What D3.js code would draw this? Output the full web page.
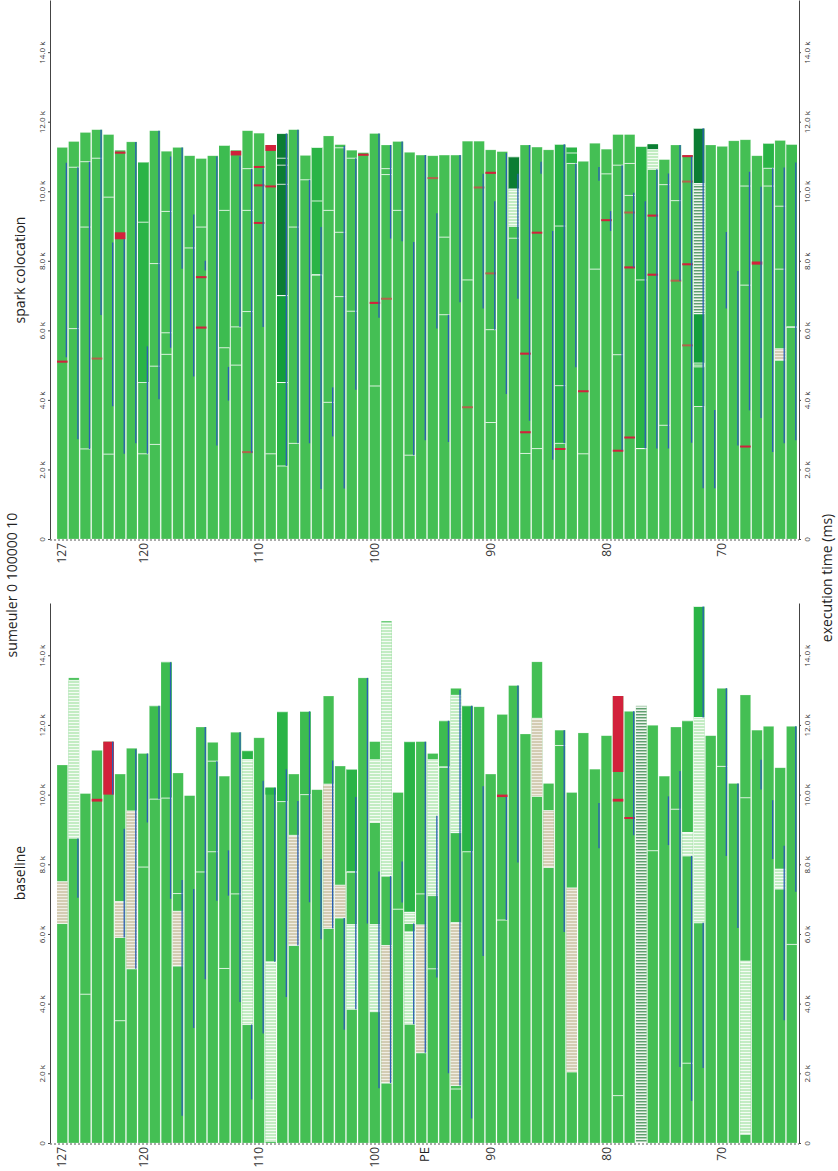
<!DOCTYPE html>
<html>
<head>
<meta charset="utf-8">
<script src="https://cdn.jsdelivr.net/npm/d3@7"></script>
<style>
  body { margin: 0; background: #fff; }
  svg { display: block; }
  .tick text { font-family: "Open Sans", "DejaVu Sans", sans-serif; fill: #333; }
</style>
</head>
<body>
<div id="chart"></div>
<script>
// PEs drawn left to right, 127 down to 64
var pes = d3.range(127, 63, -1);
var peTicks = [127, 120, 110, 100, 90, 80, 70];
var timeTicks = [0, 2, 4, 6, 8, 10, 12, 14];   // k ms

// end of execution per PE (k ms), same order as pes
var baseEnd = [10.85, 13.35, 10.03, 11.27, 11.52, 10.59, 11.33, 11.18, 12.55, 13.81,
  10.62, 9.97, 11.94, 11.50, 10.53, 11.79, 11.26, 11.63, 10.20, 12.38,
  10.59, 12.39, 10.14, 12.83, 10.82, 10.73, 13.35, 11.52, 14.98, 10.06,
  11.52, 11.52, 11.18, 12.12, 13.05, 12.55, 12.52, 10.59, 12.30, 13.13,
  11.74, 13.81, 10.32, 11.85, 10.06, 11.77, 10.73, 11.69, 12.83, 12.39,
  12.55, 11.99, 10.53, 11.94, 12.12, 15.40, 11.69, 13.05, 10.32, 12.86,
  11.85, 11.96, 10.77, 11.96];

var sparkEnd = [11.26, 11.43, 11.69, 11.77, 11.63, 11.18, 11.42, 10.84, 11.74, 11.15,
  11.26, 11.02, 10.94, 11.02, 11.32, 11.18, 11.74, 11.67, 11.33, 11.66,
  11.77, 11.03, 11.26, 11.59, 11.34, 11.18, 11.11, 11.66, 11.33, 11.43,
  11.12, 11.04, 11.02, 11.04, 11.04, 11.44, 11.44, 11.19, 11.14, 10.99,
  11.33, 11.27, 11.19, 11.35, 11.27, 10.86, 11.38, 11.21, 11.63, 11.63,
  11.29, 11.35, 10.91, 11.33, 11.04, 11.81, 11.33, 11.29, 11.45, 11.48,
  11.02, 11.38, 11.46, 11.35];

// state segments over the running green: [pe, from, to, state]
var baseSegs = [
  [127, 6.3, 7.5, "beige"], [126, 8.75, 13.28, "light"], [124, 9.8, 9.88, "red"],
  [123, 10.0, 11.52, "red"], [122, 5.9, 6.93, "beige"], [121, 5.0, 9.53, "beige"],
  [119, 9.87, 12.55, "soft"], [118, 9.9, 13.81, "soft"],
  [117, 5.08, 6.65, "beige"], [111, 3.4, 11.0, "light"], [111, 11.0, 11.26, "mid"],
  [109, 0.05, 5.2, "light"], [109, 10.0, 10.2, "mid"], [108, 9.8, 12.38, "mid"],
  [107, 5.67, 8.83, "beige"], [106, 10.0, 12.39, "soft"], [104, 6.16, 10.3, "beige"],
  [103, 6.46, 7.4, "beige"], [102, 3.84, 6.27, "light"], [102, 7.78, 10.73, "mid"],
  [100, 3.77, 6.27, "light"], [100, 9.2, 11.0, "light"],
  [99, 1.72, 5.67, "beige"], [99, 7.66, 14.93, "light"],
  [97, 3.41, 6.06, "light"], [97, 6.3, 6.62, "light"], [97, 6.62, 11.52, "mid"],
  [96, 2.59, 6.26, "beige"], [95, 7.1, 11.0, "light"], [94, 10.79, 12.12, "soft"],
  [93, 1.65, 6.32, "beige"], [93, 6.32, 8.91, "soft"], [93, 8.91, 12.85, "light"],
  [92, 8.36, 12.55, "mid"], [89, 9.93, 10.0, "red"], [86, 9.95, 12.19, "beige"],
  [85, 7.91, 9.54, "beige"], [83, 2.04, 7.32, "beige"],
  [79, 10.65, 12.83, "red"], [79, 9.8, 9.88, "red"], [78, 9.3, 9.35, "red"],
  [77, 0, 12.55, "grey"], [73, 8.24, 8.91, "light"], [73, 8.91, 12.12, "soft"],
  [72, 6.32, 12.21, "light"], [72, 12.21, 15.4, "mid"],
  [68, 0.25, 5.22, "light"], [65, 7.29, 7.86, "light"]
];

var sparkSegs = [
  [127, 5.07, 5.13, "red"], [124, 5.16, 5.21, "brown"], [122, 11.08, 11.14, "red"],
  [122, 8.62, 8.82, "red"], [120, 4.5, 10.84, "mid"], [115, 7.5, 7.56, "red"],
  [115, 6.05, 6.11, "red"], [113, 5.5, 11.32, "soft"], [112, 11.03, 11.16, "red"],
  [111, 2.47, 2.51, "brown"], [110, 10.67, 10.71, "red"], [110, 10.14, 10.2, "red"],
  [110, 9.06, 9.1, "red"], [109, 11.16, 11.33, "red"], [109, 10.11, 10.15, "red"],
  [108, 2.1, 4.5, "mid"], [108, 4.5, 7.0, "dark"], [108, 7.0, 11.66, "deep"],
  [105, 7.6, 11.26, "mid"],
  [101, 11.02, 11.08, "red"], [100, 6.76, 6.82, "red"], [99, 6.88, 6.92, "brown"],
  [95, 10.35, 10.39, "brown"], [92, 3.76, 3.8, "brown"], [91, 10.08, 10.12, "brown"],
  [90, 10.5, 10.56, "red"], [90, 7.61, 7.65, "brown"],
  [88, 8.99, 10.06, "light"], [88, 10.06, 10.99, "deep"],
  [87, 5.3, 5.36, "red"], [87, 3.04, 3.1, "red"], [86, 8.78, 8.83, "red"],
  [84, 2.75, 11.35, "mid"], [84, 2.56, 2.61, "red"], [83, 10.8, 11.27, "mid"],
  [82, 4.22, 4.27, "red"], [80, 9.14, 9.18, "red"], [79, 2.51, 2.55, "red"],
  [78, 9.36, 9.4, "brown"], [78, 7.78, 7.84, "red"], [78, 2.89, 2.93, "red"],
  [77, 2.6, 11.29, "mid"], [76, 10.63, 11.2, "light"], [76, 11.2, 11.35, "deep"],
  [76, 9.27, 9.33, "red"], [76, 7.57, 7.63, "red"], [74, 7.4, 7.44, "brown"],
  [73, 10.98, 11.04, "red"], [73, 7.87, 7.93, "red"], [73, 10.25, 10.29, "brown"],
  [73, 5.54, 5.58, "brown"], [72, 3.81, 4.95, "mid"], [72, 5.06, 6.48, "dark"],
  [72, 6.48, 10.22, "grey"], [72, 10.22, 11.81, "deep"], [68, 2.63, 2.68, "red"],
  [67, 7.89, 7.98, "red"], [66, 10.66, 11.38, "mid"], [65, 5.14, 5.47, "beige"],
  [64, 6.1, 11.35, "soft"]
];

// thin white event marks: [pe, time]
var baseMarks = [[125, 4.27], [122, 3.51], [120, 7.92], [117, 7.16], [115, 7.78],
  [114, 10.96], [114, 8.36], [113, 5.01], [112, 7.15], [102, 7.78], [98, 6.71],
  [96, 7.15], [95, 5.0], [94, 10.79], [93, 1.55], [89, 6.4], [84, 11.41],
  [79, 1.36], [76, 8.39], [74, 9.58], [73, 2.29], [70, 10.81], [68, 9.91], [64, 5.7]];

var sparkMarks = [[126, 10.69], [126, 6.05], [125, 10.85], [125, 8.97], [125, 2.59],
  [124, 10.95], [123, 9.83], [123, 2.44], [120, 9.11], [120, 2.45], [119, 7.92],
  [119, 4.97], [119, 2.72], [118, 9.42], [118, 5.93], [118, 5.31], [116, 8.37],
  [115, 8.97], [113, 9.45], [112, 6.1], [112, 5.0], [111, 10.65], [111, 9.45],
  [111, 6.54], [109, 2.45], [108, 10.95], [108, 10.75], [108, 10.2], [107, 8.97],
  [107, 2.75], [106, 10.33], [105, 9.72], [105, 7.59], [104, 9.45], [104, 3.93],
  [103, 11.25], [103, 8.82], [103, 6.97], [102, 10.95], [102, 6.55], [100, 4.4],
  [99, 10.65], [99, 10.48], [98, 9.45], [97, 2.41], [94, 8.68], [94, 6.45],
  [92, 7.45], [90, 6.02], [90, 3.35], [88, 8.65], [87, 2.46], [86, 2.6],
  [84, 9.0], [84, 4.41], [83, 11.1], [82, 2.45], [81, 7.76], [80, 10.5],
  [79, 10.75], [79, 5.3], [78, 10.8], [78, 9.88], [77, 7.45], [77, 2.6],
  [75, 10.19], [75, 3.27], [74, 9.73], [72, 5.0], [68, 10.15], [68, 7.3],
  [66, 10.15], [65, 9.57], [65, 7.76], [64, 6.09]];

// blue thread lines: [pe, from, to]
var baseBlue = [[126, 7.04, 8.74], [123, 10.0, 11.52], [122, 5.9, 9.02], [121, 5.0, 11.3],
  [120, 9.2, 11.18], [119, 9.87, 12.55], [118, 7.01, 13.8], [117, 0.78, 7.55],
  [116, 3.3, 7.29], [115, 4.7, 11.94], [114, 6.95, 10.96], [113, 7.1, 8.4],
  [112, 4.05, 11.79], [111, 1.25, 3.4], [110, 3.14, 10.4], [109, 5.2, 10.2],
  [108, 4.19, 10.73], [107, 5.67, 9.82], [106, 6.91, 12.39], [105, 5.85, 8.15],
  [104, 6.16, 10.98], [103, 3.25, 6.46], [102, 3.84, 9.93], [101, 6.3, 13.35],
  [100, 1.57, 7.79], [99, 1.72, 7.66], [98, 6.9, 8.08], [97, 3.41, 6.3],
  [96, 2.59, 11.52], [95, 4.75, 9.39], [94, 2.0, 12.12], [93, 1.65, 13.0],
  [92, 0.7, 12.55], [91, 5.37, 10.24], [89, 6.4, 9.93], [88, 8.05, 13.13],
  [84, 6.06, 11.85], [81, 8.46, 9.76], [78, 8.83, 12.39], [75, 8.55, 9.95],
  [74, 2.18, 10.68], [73, 1.21, 8.24], [72, 2.15, 6.32], [72, 12.21, 15.4],
  [70, 8.24, 13.05], [69, 6.17, 10.32], [67, 10.15, 11.0], [66, 8.15, 9.84],
  [65, 3.52, 8.53], [64, 7.21, 11.96]];

var sparkBlue = [[127, 5.23, 10.82], [126, 2.87, 10.69], [125, 2.59, 10.85], [124, 6.44, 11.77],
  [123, 3.82, 8.53], [122, 2.45, 8.62], [121, 2.75, 11.42], [120, 2.45, 5.54],
  [119, 4.02, 11.74], [118, 5.5, 11.0], [117, 7.77, 11.26], [116, 4.67, 9.33],
  [115, 7.72, 8.0], [114, 2.69, 11.0], [113, 3.98, 4.95], [112, 6.1, 11.0],
  [111, 2.48, 10.65], [110, 6.1, 10.65], [108, 2.1, 11.66], [107, 2.75, 11.77],
  [106, 2.75, 10.33], [105, 1.44, 8.97], [104, 2.95, 4.36], [103, 1.45, 11.3],
  [102, 4.29, 10.95], [100, 6.36, 11.66], [99, 8.64, 11.33], [98, 8.56, 11.43],
  [97, 2.41, 8.54], [96, 2.84, 11.04], [95, 6.05, 9.37], [94, 2.79, 6.45],
  [93, 6.81, 11.04], [91, 6.63, 10.5], [90, 6.02, 9.71], [89, 4.17, 11.1],
  [88, 6.91, 10.5], [87, 3.4, 11.33], [86, 10.5, 10.85], [85, 2.28, 8.86],
  [84, 2.75, 11.35], [83, 4.94, 10.8], [81, 10.3, 10.7], [80, 8.86, 9.43],
  [79, 2.55, 10.75], [78, 7.81, 9.96], [77, 2.6, 9.71], [76, 2.6, 10.63],
  [75, 2.6, 10.51], [74, 7.42, 11.33], [73, 2.77, 11.0], [72, 1.46, 11.81],
  [71, 1.46, 3.71], [70, 6.63, 8.83], [69, 2.69, 7.71], [68, 3.7, 10.56],
  [67, 3.48, 10.13], [66, 2.5, 10.66], [65, 2.75, 10.68], [64, 2.84, 10.83]];

var stateFill = {
  soft: "#3dbc50", mid: "#2ab446", dark: "#139e3b", deep: "#0b7d33",
  red: "#d2213b", brown: "#b0634a",
  light: "url(#stLight)", beige: "url(#stBeige)", grey: "url(#stGrey)"
};

var W = 838, H = 1171;
var font = '"Open Sans", "DejaVu Sans", sans-serif';

var svg = d3.select("#chart").append("svg")
  .attr("width", W).attr("height", H);

// striped fills
var defs = svg.append("defs");
function stripes(id, base, line, line2) {
  var p = defs.append("pattern").attr("id", id)
    .attr("patternUnits", "userSpaceOnUse").attr("width", 20).attr("height", 3);
  p.append("rect").attr("width", 20).attr("height", 3).attr("fill", base);
  p.append("rect").attr("y", 2).attr("width", 20).attr("height", 1).attr("fill", line);
  if (line2) p.append("rect").attr("y", 0).attr("width", 20).attr("height", 1).attr("fill", line2);
}
stripes("stLight", "#c3ecc3", "#f4fcf4");
stripes("stBeige", "#d3ccb3", "#f0ede4");
stripes("stGrey", "#aecdb3", "#eef5ef", "#5f9f6f");

var x = d3.scaleBand().domain(pes).range([57, 797]).paddingInner(0.09).paddingOuter(0);

function drawPanel(ends, segs, marks, blues, yBottom, yTop) {
  var y = d3.scaleLinear().domain([0, 15.5]).range([yBottom, yTop]);
  var g = svg.append("g");

  // running bars
  g.append("g").selectAll("rect").data(pes).enter().append("rect")
    .attr("x", d => x(d))
    .attr("width", x.bandwidth())
    .attr("y", (d, i) => y(ends[i]))
    .attr("height", (d, i) => y(0) - y(ends[i]))
    .attr("fill", "#44bf54")
    .attr("stroke", "rgba(255,255,255,0.35)")
    .attr("stroke-width", 0.6);

  // other states
  g.append("g").selectAll("rect").data(segs).enter().append("rect")
    .attr("x", d => x(d[0]))
    .attr("width", x.bandwidth())
    .attr("y", d => Math.min(y(d[2]), y(d[1]) - 2))
    .attr("height", d => Math.max(2, y(d[1]) - y(d[2])))
    .attr("fill", d => stateFill[d[3]]);

  // segment edges, drawn as thin light lines
  var edges = [];
  segs.forEach(function (s) {
    if (s[2] - s[1] > 0.2 && s[3] != "red") { edges.push([s[0], s[1]]); edges.push([s[0], s[2]]); }
  });
  g.append("g").selectAll("line").data(edges.concat(marks)).enter().append("line")
    .attr("x1", d => x(d[0]))
    .attr("x2", d => x(d[0]) + x.bandwidth())
    .attr("y1", d => y(d[1])).attr("y2", d => y(d[1]))
    .attr("stroke", "rgba(255,255,255,0.8)")
    .attr("stroke-width", 1);

  // blue lines near the right edge of each bar
  g.append("g").selectAll("line").data(blues).enter().append("line")
    .attr("x1", d => x(d[0]) + x.bandwidth() - 1.2)
    .attr("x2", d => x(d[0]) + x.bandwidth() - 1.2)
    .attr("y1", d => y(d[1])).attr("y2", d => y(d[2]))
    .attr("stroke", "#2a5fb4")
    .attr("stroke-width", 1.3);

  // time axes on both sides
  var fmt = d => d === 0 ? "0" : d.toFixed(1) + " k";
  var left = g.append("g").attr("transform", "translate(50,0)")
    .call(d3.axisLeft(y).tickValues(timeTicks).tickFormat(fmt).tickSize(2).tickSizeOuter(0));
  left.selectAll("text")
    .attr("transform", "rotate(-90)").attr("x", 0).attr("y", -5).attr("dy", 0)
    .attr("text-anchor", "middle").style("font-size", "8px");
  var right = g.append("g").attr("transform", "translate(799,0)")
    .call(d3.axisRight(y).tickValues(timeTicks).tickFormat(fmt).tickSize(2).tickSizeOuter(0));
  right.selectAll("text")
    .attr("transform", "rotate(-90)").attr("x", 0).attr("y", 11).attr("dy", 0)
    .attr("text-anchor", "middle").style("font-size", "8px");
  svg.selectAll(".domain").attr("stroke", "#444");
  svg.selectAll(".tick line").attr("stroke", "#444");

  // PE axis: dotted baseline and rotated labels
  g.append("line")
    .attr("x1", 50).attr("x2", 799)
    .attr("y1", yBottom + 1).attr("y2", yBottom + 1)
    .attr("stroke", "#555").attr("stroke-dasharray", "2,2");
  g.append("g").selectAll("text").data(peTicks).enter().append("text")
    .attr("transform", d => "translate(" + (x(d) + x.bandwidth() / 2) + "," + (yBottom + 4) + ") rotate(-90)")
    .attr("dy", "0.35em")
    .attr("text-anchor", "end")
    .style("font-family", font).style("font-size", "12px").attr("fill", "#333")
    .text(d => d);
  return y;
}

drawPanel(sparkEnd, sparkSegs, sparkMarks, sparkBlue, 539, 0);
drawPanel(baseEnd, baseSegs, baseMarks, baseBlue, 1143, 603);

function vText(tx, ty, str, size, anchor) {
  svg.append("text")
    .attr("transform", "translate(" + tx + "," + ty + ") rotate(-90)")
    .attr("text-anchor", anchor || "middle")
    .style("font-family", font).style("font-size", size + "px").attr("fill", "#222")
    .text(str);
}
vText(17, 585, "sumeuler 0 100000 10", 14);
vText(25, 270, "spark colocation", 14);
vText(25, 873, "baseline", 14);
vText(832, 578, "execution time (ms)", 14);
svg.append("text")
  .attr("transform", "translate(424,1147) rotate(-90)")
  .attr("dy", "0.35em").attr("text-anchor", "end")
  .style("font-family", font).style("font-size", "13px").attr("fill", "#222")
  .text("PE");
</script>
</body>
</html>
